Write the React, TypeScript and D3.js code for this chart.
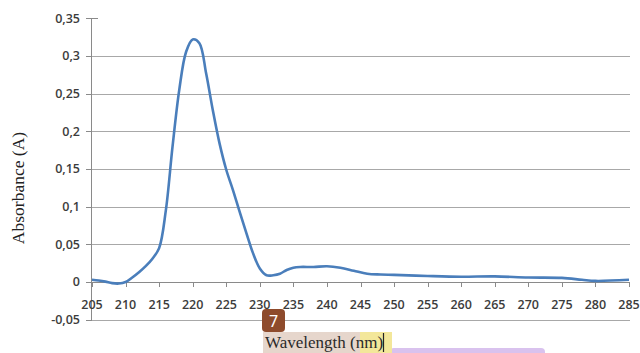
import React from 'react';
import * as d3 from 'd3';

// wavelength (nm) and absorbance
const wavelength = [205, 206, 207, 208, 209, 210, 211, 212, 213, 214, 215, 216, 217, 218, 219, 220, 221, 222, 223, 224, 225, 226, 227, 228, 229, 230, 231, 232, 233, 234, 235, 236, 238, 240, 242, 244, 246, 248, 250, 255, 260, 265, 270, 275, 278, 280, 285];
const absorbance = [0.003, 0.002, 0.0005, -0.0015, -0.002, 0.0, 0.006, 0.013, 0.021, 0.031, 0.045, 0.095, 0.18, 0.255, 0.305, 0.322, 0.317, 0.277, 0.228, 0.184, 0.149, 0.122, 0.093, 0.065, 0.038, 0.018, 0.009, 0.009, 0.011, 0.016, 0.019, 0.02, 0.02, 0.021, 0.019, 0.015, 0.011, 0.01, 0.0095, 0.008, 0.007, 0.0075, 0.006, 0.0055, 0.003, 0.0015, 0.003];

const xTicks = [205, 210, 215, 220, 225, 230, 235, 240, 245, 250, 255, 260, 265, 270, 275, 280, 285];
const yTicks = [-0.05, 0, 0.05, 0.1, 0.15, 0.2, 0.25, 0.3, 0.35];

const W = 640;
const H = 353;

export default function App() {
  const x = d3.scaleLinear().domain([205, 285]).range([92, 629]);
  const y = d3.scaleLinear().domain([-0.05, 0.35]).range([319.7, 18.3]);

  const pts: [number, number][] = wavelength.map((w, i) => [w, absorbance[i]]);
  const line = d3.line<[number, number]>()
    .x(d => x(d[0]))
    .y(d => y(d[1]))
    .curve(d3.curveCatmullRom.alpha(0.5));

  const fmt = (v: number) => (v === 0 ? '0' : String(+v.toFixed(2)).replace('.', ','));
  const tickFont = '"Open Sans", sans-serif';

  return (
    <div style={{ position: 'absolute', left: 0, top: 0 }}>
      <svg width={W} height={H} style={{ display: 'block', background: '#fff' }}>
        {/* gridlines */}
        {yTicks.filter(t => t !== 0.35).map(t => (
          <line key={'g' + t} x1={t === -0.05 ? 86 : 92} x2={630} y1={Math.round(y(t)) + 0.5} y2={Math.round(y(t)) + 0.5}
            stroke="#a8a8a8" strokeWidth={1} />
        ))}
        {/* y axis */}
        <line x1={91.5} x2={91.5} y1={18} y2={320} stroke="#8a8a8a" />
        {yTicks.map(t => (
          <line key={'yt' + t} x1={86} x2={t === 0.35 ? 98 : 92} y1={Math.round(y(t)) + 0.5} y2={Math.round(y(t)) + 0.5} stroke="#8a8a8a" />
        ))}
        {yTicks.map(t => (
          <text key={'yl' + t} x={80} y={y(t)} dy="0.35em" textAnchor="end"
            fontFamily={tickFont} fontSize={12.5} fontWeight={600} fill="#3c3c3c">{fmt(t)}</text>
        ))}
        {/* x axis at zero */}
        <line x1={92} x2={630} y1={Math.round(y(0)) + 0.5} y2={Math.round(y(0)) + 0.5} stroke="#8a8a8a" />
        {xTicks.map(t => (
          <line key={'xt' + t} x1={Math.round(x(t)) + 0.5} x2={Math.round(x(t)) + 0.5} y1={y(0)} y2={y(0) + 5} stroke="#8a8a8a" />
        ))}
        {xTicks.map(t => (
          <text key={'xl' + t} x={x(t)} y={308.5} textAnchor="middle"
            fontFamily={tickFont} fontSize={12.5} fontWeight={600} fill="#3c3c3c">{t}</text>
        ))}
        {/* spectrum */}
        <path d={line(pts) ?? ''} fill="none" stroke="#4a7ebb" strokeWidth={2.6} strokeLinejoin="round" />
        {/* axis titles */}
        <text transform="translate(23.5,188) rotate(-90)" textAnchor="middle"
          fontFamily='"Liberation Serif", serif' fontSize={17.5} fill="#222">Absorbance (A)</text>
        {/* overlay annotations from the screenshot */}
        <rect x={390} y={348} width={155} height={8} rx={4} fill="#d9c2ee" />
        <rect x={263} y={332} width={97} height={21} fill="#e6d6cc" />
        <rect x={360} y={332} width={32} height={21} fill="#f3e79a" />
        <text x={265} y={348} fontFamily='"Liberation Serif", serif' fontSize={17} fill="#2a2a2a">Wavelength (nm)</text>
        <line x1={383.5} x2={383.5} y1={333} y2={352} stroke="#222" strokeWidth={1.2} />
        <rect x={262} y={309} width={23} height={23} rx={4} fill="#8e4b2c" />
        <text x={273.5} y={321} dy="0.36em" textAnchor="middle" fontFamily='"Noto Sans", sans-serif' fontSize={16} fill="#fff">7</text>
      </svg>
    </div>
  );
}
